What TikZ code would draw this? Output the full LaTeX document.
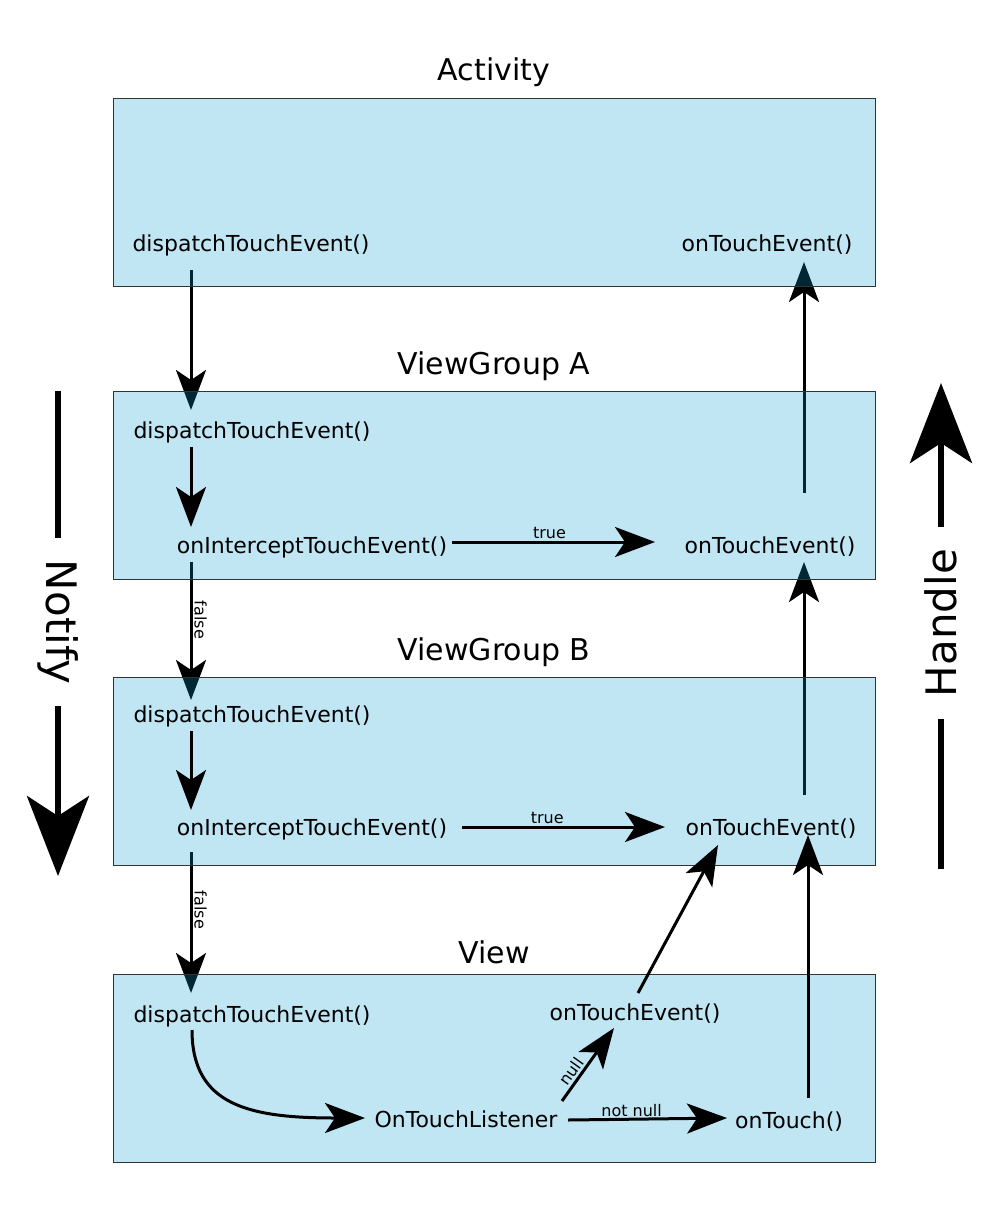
\documentclass[tikz,border=0pt]{standalone}
\usepackage{fontspec}
\setmainfont{DejaVu Sans}
\usetikzlibrary{arrows.meta,calc}
\pgfdeclarelayer{back}
\pgfsetlayers{back,main}
\begin{document}
\begin{tikzpicture}[x=0.5pt,y=-0.5pt,
  box/.style={draw={rgb,255:red,51;green,51;blue,51}, line width=0.6pt,
    fill={rgb,255:red,4;green,152;blue,208}, fill opacity=0.25,
    minimum width=381pt, minimum height=94pt, inner sep=0, anchor=north west},
  title/.style={font=\fontsize{15}{18}\selectfont, inner sep=0},
  txt/.style={font=\fontsize{11}{13}\selectfont, inner sep=0},
  lab/.style={font=\fontsize{8}{10}\selectfont, inner sep=1pt},
  flow/.style={line width=1.5pt, -{Stealth[length=20pt,width=15pt,inset=5pt]}},
  big/.style={line width=3pt},
  bigtip/.style={big, -{Stealth[length=40pt,width=31pt,inset=10pt]}},
  side/.style={font=\fontsize{21}{25}\selectfont, inner xsep=11pt, inner ysep=0}]
\useasboundingbox (0,0) rectangle (1000,1208);

% boxes
\node[box] (b1) at (113,98) {};
\node[box] (b2) at (113,391) {};
\node[box] (b3) at (113,677) {};
\node[box] (b4) at (113,974) {};

% titles
\node[title] (t1) at (494,72) {Activity};
\node[title] (t2) at (494,366) {ViewGroup A};
\node[title] (t3) at (494,652) {ViewGroup B};
\node[title] (t4) at (494,952) {View};

% texts
\node[txt] (a1d) at (251,245) {dispatchTouchEvent()};
\node[txt] (a1o) at (767,245) {onTouchEvent()};
\node[txt] (a2d) at (252,432) {dispatchTouchEvent()};
\node[txt] (a2i) at (312,547) {onInterceptTouchEvent()};
\node[txt] (a2o) at (770,547) {onTouchEvent()};
\node[txt] (a3d) at (252,716) {dispatchTouchEvent()};
\node[txt] (a3i) at (312,829) {onInterceptTouchEvent()};
\node[txt] (a3o) at (771,829) {onTouchEvent()};
\node[txt] (a4d) at (252,1016) {dispatchTouchEvent()};
\node[txt] (a4o) at (635,1014) {onTouchEvent()};
\node[txt] (a4l) at (466,1119) {OnTouchListener};
\node[txt] (a4t) at (789,1122) {onTouch()};

% arrows passing behind the boxes
\begin{pgfonlayer}{back}
\draw[flow] ($(a1d)+(-60,25)$) -- ($(a2d)+(-61,-22)$);
\draw[flow] ($(a2o)+(34,-54)$) -- ($(a1o)+(37,17)$);
\draw[flow] ($(a2i)+(-121,15)$) -- node[lab, sloped, above, pos=0.42] {false} ($(a3d)+(-61,-16)$);
\draw[flow] ($(a3o)+(33,-34)$) -- ($(a2o)+(34,15)$);
\draw[flow] ($(a3i)+(-121,23)$) -- node[lab, sloped, above, pos=0.41] {false} ($(a4d)+(-61,-23)$);
\end{pgfonlayer}

% arrows in front
\draw[flow] ($(a2d)+(-61,15)$) -- ($(a2i)+(-121,-20)$);
\draw[flow] ($(a2i)+(140,-5)$) -- node[lab, above, pos=0.48] {true} ($(a2o)+(-115,-5)$);
\draw[flow] ($(a3d)+(-61,15)$) -- ($(a3i)+(-121,-19)$);
\draw[flow] ($(a3i)+(150,-2)$) -- node[lab, above, pos=0.42] {true} ($(a3o)+(-106,-2)$);
\draw[line width=1.5pt, -{Stealth[length=20pt,width=15pt,inset=5pt]}]
  ($(a4d)+(-60,14)$) .. controls ($(a4d)+(-60,90)$) and ($(a4l)+(-216,-1)$) .. ($(a4l)+(-101,-1)$);
\draw[flow] ($(a4l)+(96,-18)$) -- node[lab, sloped, above, pos=0.33] {null} ($(a4o)+(-21,14)$);
\draw[flow] ($(a4l)+(102,1)$) -- node[lab, above, pos=0.4, inner sep=0.5pt] {not null} ($(a4t)+(-62,-4)$);
\draw[flow] ($(a4o)+(3,-21)$) -- ($(a3o)+(-53,16)$);
\draw[flow] ($(a4t)+(19,-24)$) -- ($(a3o)+(37,6)$);

% Notify / Handle
\node[side, rotate=-90] (notify) at (58,622) {Notify};
\coordinate (nTop) at (58,391);
\coordinate (nBot) at (58,876);
\draw[big] (nTop) -- (notify);
\draw[bigtip] (notify) -- (nBot);

\node[side, rotate=90] (handle) at (941,623) {Handle};
\coordinate (hTop) at (941,383);
\coordinate (hBot) at (941,869);
\draw[big] (hBot) -- (handle);
\draw[bigtip] (handle) -- (hTop);
\end{tikzpicture}
\end{document}
